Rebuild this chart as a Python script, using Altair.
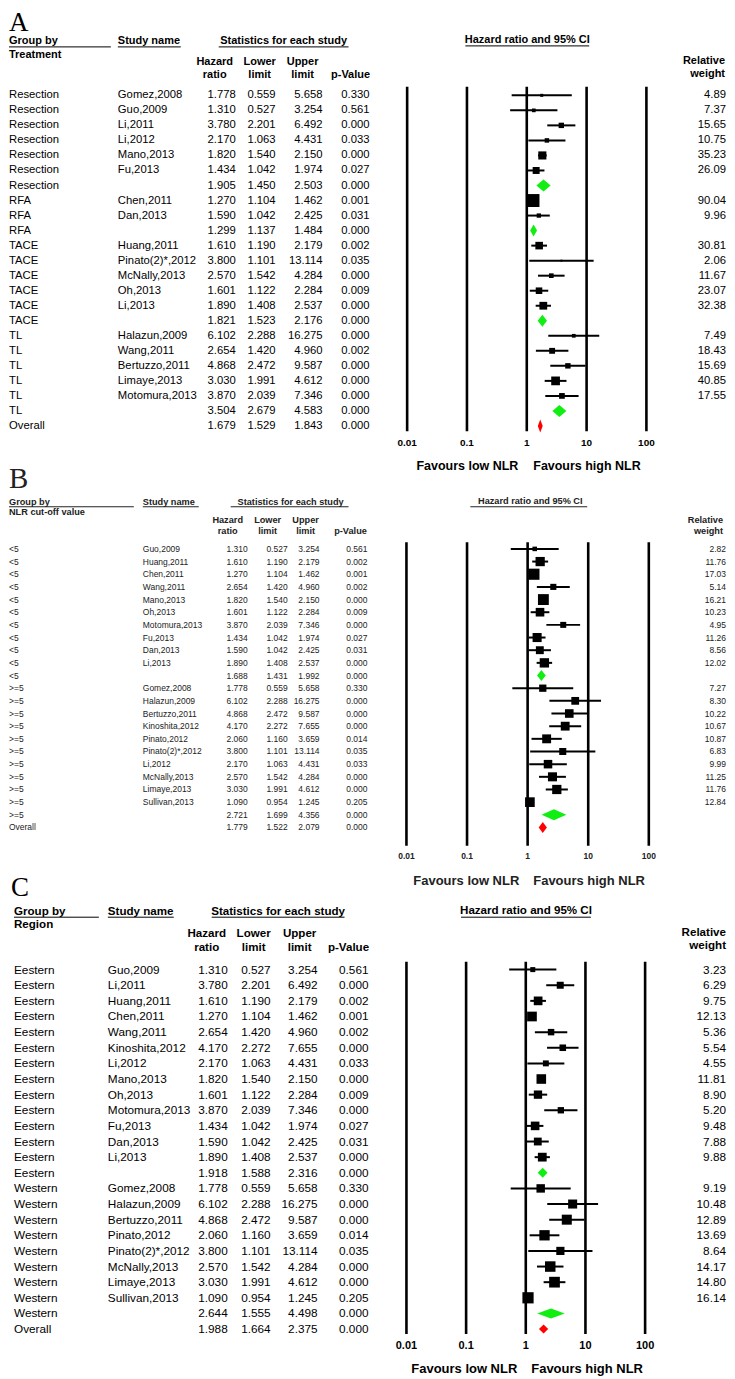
import altair as alt
import pandas as pd

FONT = "Liberation Sans"
SERIF = "Liberation Serif"
GREEN = "#11ee11"
RED = "#ff0000"

TICKS = [0.01, 0.1, 1, 10, 100]
TICK_LABELS = ["0.01", "0.1", "1", "10", "100"]

# ---------------- Panel A : by treatment ----------------
A_groups = ["Resection"] * 7 + ["RFA"] * 3 + ["TACE"] * 6 + ["TL"] * 6 + ["Overall"]
A_studies = ["Gomez,2008", "Guo,2009", "Li,2011", "Li,2012", "Mano,2013", "Fu,2013", "",
             "Chen,2011", "Dan,2013", "",
             "Huang,2011", "Pinato(2)*,2012", "McNally,2013", "Oh,2013", "Li,2013", "",
             "Halazun,2009", "Wang,2011", "Bertuzzo,2011", "Limaye,2013", "Motomura,2013", "",
             ""]
A_hr = [1.778, 1.310, 3.780, 2.170, 1.820, 1.434, 1.905,
        1.270, 1.590, 1.299,
        1.610, 3.800, 2.570, 1.601, 1.890, 1.821,
        6.102, 2.654, 4.868, 3.030, 3.870, 3.504,
        1.679]
A_lo = [0.559, 0.527, 2.201, 1.063, 1.540, 1.042, 1.450,
        1.104, 1.042, 1.137,
        1.190, 1.101, 1.542, 1.122, 1.408, 1.523,
        2.288, 1.420, 2.472, 1.991, 2.039, 2.679,
        1.529]
A_up = [5.658, 3.254, 6.492, 4.431, 2.150, 1.974, 2.503,
        1.462, 2.425, 1.484,
        2.179, 13.114, 4.284, 2.284, 2.537, 2.176,
        16.275, 4.960, 9.587, 4.612, 7.346, 4.583,
        1.843]
A_p = [0.330, 0.561, 0.000, 0.033, 0.000, 0.027, 0.000,
       0.001, 0.031, 0.000,
       0.002, 0.035, 0.000, 0.009, 0.000, 0.000,
       0.000, 0.002, 0.000, 0.000, 0.000, 0.000,
       0.000]
A_w = [4.89, 7.37, 15.65, 10.75, 35.23, 26.09, None,
       90.04, 9.96, None,
       30.81, 2.06, 11.67, 23.07, 32.38, None,
       7.49, 18.43, 15.69, 40.85, 17.55, None,
       None]

# ---------------- Panel B : by NLR cut-off ----------------
B_groups = ["<5"] * 11 + [">=5"] * 11 + ["Overall"]
B_studies = ["Guo,2009", "Huang,2011", "Chen,2011", "Wang,2011", "Mano,2013", "Oh,2013",
             "Motomura,2013", "Fu,2013", "Dan,2013", "Li,2013", "",
             "Gomez,2008", "Halazun,2009", "Bertuzzo,2011", "Kinoshita,2012", "Pinato,2012",
             "Pinato(2)*,2012", "Li,2012", "McNally,2013", "Limaye,2013", "Sullivan,2013", "",
             ""]
B_hr = [1.310, 1.610, 1.270, 2.654, 1.820, 1.601, 3.870, 1.434, 1.590, 1.890, 1.688,
        1.778, 6.102, 4.868, 4.170, 2.060, 3.800, 2.170, 2.570, 3.030, 1.090, 2.721,
        1.779]
B_lo = [0.527, 1.190, 1.104, 1.420, 1.540, 1.122, 2.039, 1.042, 1.042, 1.408, 1.431,
        0.559, 2.288, 2.472, 2.272, 1.160, 1.101, 1.063, 1.542, 1.991, 0.954, 1.699,
        1.522]
B_up = [3.254, 2.179, 1.462, 4.960, 2.150, 2.284, 7.346, 1.974, 2.425, 2.537, 1.992,
        5.658, 16.275, 9.587, 7.655, 3.659, 13.114, 4.431, 4.284, 4.612, 1.245, 4.356,
        2.079]
B_p = [0.561, 0.002, 0.001, 0.002, 0.000, 0.009, 0.000, 0.027, 0.031, 0.000, 0.000,
       0.330, 0.000, 0.000, 0.000, 0.014, 0.035, 0.033, 0.000, 0.000, 0.205, 0.000,
       0.000]
B_w = [2.82, 11.76, 17.03, 5.14, 16.21, 10.23, 4.95, 11.26, 8.56, 12.02, None,
       7.27, 8.30, 10.22, 10.67, 10.87, 6.83, 9.99, 11.25, 11.76, 12.84, None,
       None]

# ---------------- Panel C : by region ----------------
C_groups = ["Eestern"] * 14 + ["Western"] * 9 + ["Overall"]
C_studies = ["Guo,2009", "Li,2011", "Huang,2011", "Chen,2011", "Wang,2011", "Kinoshita,2012",
             "Li,2012", "Mano,2013", "Oh,2013", "Motomura,2013", "Fu,2013", "Dan,2013",
             "Li,2013", "",
             "Gomez,2008", "Halazun,2009", "Bertuzzo,2011", "Pinato,2012", "Pinato(2)*,2012",
             "McNally,2013", "Limaye,2013", "Sullivan,2013", "",
             ""]
C_hr = [1.310, 3.780, 1.610, 1.270, 2.654, 4.170, 2.170, 1.820, 1.601, 3.870, 1.434, 1.590,
        1.890, 1.918,
        1.778, 6.102, 4.868, 2.060, 3.800, 2.570, 3.030, 1.090, 2.644,
        1.988]
C_lo = [0.527, 2.201, 1.190, 1.104, 1.420, 2.272, 1.063, 1.540, 1.122, 2.039, 1.042, 1.042,
        1.408, 1.588,
        0.559, 2.288, 2.472, 1.160, 1.101, 1.542, 1.991, 0.954, 1.555,
        1.664]
C_up = [3.254, 6.492, 2.179, 1.462, 4.960, 7.655, 4.431, 2.150, 2.284, 7.346, 1.974, 2.425,
        2.537, 2.316,
        5.658, 16.275, 9.587, 3.659, 13.114, 4.284, 4.612, 1.245, 4.498,
        2.375]
C_p = [0.561, 0.000, 0.002, 0.001, 0.002, 0.000, 0.033, 0.000, 0.009, 0.000, 0.027, 0.031,
       0.000, 0.000,
       0.330, 0.000, 0.000, 0.014, 0.035, 0.000, 0.000, 0.205, 0.000,
       0.000]
C_w = [3.23, 6.29, 9.75, 12.13, 5.36, 5.54, 4.55, 11.81, 8.90, 5.20, 9.48, 7.88, 9.88, None,
       9.19, 10.48, 12.89, 13.69, 8.64, 14.17, 14.80, 16.14, None,
       None]

# ---------------- layout (positions / sizes / styles) ----------------
LA = dict(width=719, height=457, letter="A", letter_x=0, letter_y=19, letter_fs=27,
          fs=11.3, hfs=11, color="black", group_title="Treatment",
          gb=(0, 29.5), ul_y=35, gb_ul=(0, 102), sub_y=43,
          sn_x=109, sn_ul=(109, 172), st=(275, 29.5), st_ul=(210, 340),
          h1=50, h2=63, hx=(206, 251, 294, 342),
          ci=(519, 28), ci_ul=(457, 581, 34), rw=(717, 49, 62),
          cols=(0, 109, 227, 267, 314, 361, 718),
          row0=83.5, dy=15.05, x001=398.7, x100=638.3, vtop=75, vbot=420,
          tick_y=432, tick_fs=10, fav_y=455, fav_fs=12.5, fav_lo=510, fav_hi=525,
          sq=1.87, hg=0.40, hrd=0.43)
LB = dict(width=719, height=405, letter="B", letter_x=0, letter_y=20, letter_fs=29,
          fs=8.5, hfs=9.2, color="#222222", group_title="NLR cut-off value",
          gb=(0, 34), ul_y=38.5, gb_ul=(0, 125), sub_y=44,
          sn_x=134, sn_ul=(134, 190), st=(282, 34), st_ul=(222, 340),
          h1=52, h2=63, hx=(219, 259, 297, 342),
          ci=(522, 33), ci_ul=(462, 579, 38.5), rw=(715, 52, 63),
          cols=(0, 134, 239, 279, 311, 359, 718),
          row0=80.7, dy=12.68, x001=398, x100=640.7, vtop=74, vbot=378,
          tick_y=388, tick_fs=8.5, fav_y=413, fav_fs=13, fav_lo=511, fav_hi=525,
          sq=7.3, hg=0.43, hrd=0.43)
LC = dict(width=719, height=501, letter="C", letter_x=2, letter_y=23, letter_fs=27,
          fs=11.8, hfs=11.6, color="black", group_title="Region",
          gb=(5, 39), ul_y=44.5, gb_ul=(5, 90), sub_y=52.5,
          sn_x=99, sn_ul=(99, 165), st=(269.5, 39), st_ul=(203, 336),
          h1=61, h2=75, hx=(198, 245, 291, 340),
          ci=(517.7, 38), ci_ul=(452.7, 582.7, 44.5), rw=(718, 60, 73),
          cols=(5, 99, 219, 262, 309, 360, 718),
          row0=97, dy=15.65, x001=398, x100=637, vtop=89, vbot=462,
          tick_y=474, tick_fs=11, fav_y=497, fav_fs=13, fav_lo=509, fav_hi=523,
          sq=7.8, hg=0.32, hrd=0.29)


def label(text, x, y, L, size=None, bold=True, align="left", font=FONT, baseline="middle"):
    d = pd.DataFrame({"t": [text]})
    return alt.Chart(d).mark_text(
        align=align, baseline=baseline, font=font, fontSize=size or L["hfs"],
        fontWeight="bold" if bold else "normal", color=L["color"]
    ).encode(x=alt.value(x), y=alt.value(y), text="t:N")


def hline(x1, x2, y, L):
    d = pd.DataFrame({"t": [0]})
    return alt.Chart(d).mark_rule(color=L["color"], strokeWidth=1).encode(
        x=alt.value(x1), x2=alt.value(x2), y=alt.value(y))


def panel(groups, studies, hr, lo, up, p, w, L):
    n = len(groups)
    df = pd.DataFrame(dict(idx=list(range(n)), grp=groups, study=studies, hr=hr, lo=lo,
                           up=up, p=p, w=w))
    df["kind"] = ["overall" if g == "Overall" else ("study" if s else "sub")
                  for g, s in zip(groups, studies)]
    yscale = alt.Scale(domain=[0, n - 1], range=[L["row0"], L["row0"] + (n - 1) * L["dy"]],
                       nice=False, zero=False)
    xscale = alt.Scale(type="log", domain=[0.01, 100], range=[L["x001"], L["x100"]], nice=False)
    Y = alt.Y("idx:Q", scale=yscale, axis=None)
    base = alt.Chart(df)
    studies_only = base.transform_filter(alt.datum.kind == "study")
    tc = dict(font=FONT, fontSize=L["fs"], color=L["color"], baseline="middle")
    c = L["cols"]

    layers = []
    # reference vertical lines
    tdf = pd.DataFrame({"t": TICKS, "lab": TICK_LABELS})
    layers.append(alt.Chart(tdf).mark_rule(color="black", strokeWidth=2.6).encode(
        x=alt.X("t:Q", scale=xscale, axis=None), y=alt.value(L["vtop"]), y2=alt.value(L["vbot"])))
    layers.append(alt.Chart(tdf).mark_text(font=FONT, fontSize=L["tick_fs"], fontWeight="bold",
                                           color=L["color"], baseline="middle").encode(
        x=alt.X("t:Q", scale=xscale, axis=None), y=alt.value(L["tick_y"]), text="lab:N"))
    # confidence intervals
    layers.append(studies_only.mark_rule(color="black", strokeWidth=2).encode(
        x=alt.X("lo:Q", scale=xscale, axis=None), x2="up:Q", y=Y))
    # squares
    layers.append(studies_only.mark_square(filled=True, color="black", opacity=1, strokeWidth=0).encode(
        x=alt.X("hr:Q", scale=xscale, axis=None), y=Y,
        size=alt.Size("w:Q", scale=alt.Scale(domain=[0, 100], range=[0, L["sq"] * 100]), legend=None)))
    # diamonds (summary estimates): one filled area per summary row
    drows = []
    for r in df.itertuples():
        if r.kind == "study":
            continue
        h = L["hg"] if r.kind == "sub" else L["hrd"]
        drows += [dict(key=r.idx, kind=r.kind, xv=r.lo, ya=r.idx, yb=r.idx),
                  dict(key=r.idx, kind=r.kind, xv=r.hr, ya=r.idx - h, yb=r.idx + h),
                  dict(key=r.idx, kind=r.kind, xv=r.up, ya=r.idx, yb=r.idx)]
    ddf = pd.DataFrame(drows)
    for kind, colr in (("sub", GREEN), ("overall", RED)):
        sub = ddf[ddf["kind"] == kind]
        for key in sorted(sub["key"].unique()):
            one = sub[sub["key"] == key].reset_index(drop=True)
            layers.append(alt.Chart(one).mark_area(opacity=1, color=colr, orient="vertical",
                                                   interpolate="linear").encode(
                x=alt.X("xv:Q", scale=xscale, axis=None),
                y=alt.Y("ya:Q", scale=yscale, axis=None, stack=None), y2="yb:Q"))
    # text columns
    layers.append(base.mark_text(align="left", **tc).encode(x=alt.value(c[0]), y=Y, text="grp:N"))
    layers.append(base.mark_text(align="left", **tc).encode(x=alt.value(c[1]), y=Y, text="study:N"))
    layers.append(base.mark_text(align="right", **tc).encode(
        x=alt.value(c[2]), y=Y, text=alt.Text("hr:Q", format=".3f")))
    layers.append(base.mark_text(align="right", **tc).encode(
        x=alt.value(c[3]), y=Y, text=alt.Text("lo:Q", format=".3f")))
    layers.append(base.mark_text(align="right", **tc).encode(
        x=alt.value(c[4]), y=Y, text=alt.Text("up:Q", format=".3f")))
    layers.append(base.mark_text(align="right", **tc).encode(
        x=alt.value(c[5]), y=Y, text=alt.Text("p:Q", format=".3f")))
    layers.append(studies_only.mark_text(align="right", **tc).encode(
        x=alt.value(c[6]), y=Y, text=alt.Text("w:Q", format=".2f")))

    # headers
    layers.append(label(L["letter"], L["letter_x"], L["letter_y"], L, size=L["letter_fs"],
                        bold=False, font=SERIF, baseline="alphabetic"))
    layers.append(label("Group by", L["gb"][0], L["gb"][1], L))
    layers.append(hline(L["gb_ul"][0], L["gb_ul"][1], L["ul_y"], L))
    layers.append(label(L["group_title"], L["gb"][0], L["sub_y"], L))
    layers.append(label("Study name", L["sn_x"], L["gb"][1], L))
    layers.append(hline(L["sn_ul"][0], L["sn_ul"][1], L["ul_y"], L))
    layers.append(label("Statistics for each study", L["st"][0], L["st"][1], L, align="center"))
    layers.append(hline(L["st_ul"][0], L["st_ul"][1], L["ul_y"], L))
    hx = L["hx"]
    layers.append(label("Hazard", hx[0], L["h1"], L, align="center"))
    layers.append(label("ratio", hx[0], L["h2"], L, align="center"))
    layers.append(label("Lower", hx[1], L["h1"], L, align="center"))
    layers.append(label("limit", hx[1], L["h2"], L, align="center"))
    layers.append(label("Upper", hx[2], L["h1"], L, align="center"))
    layers.append(label("limit", hx[2], L["h2"], L, align="center"))
    layers.append(label("p-Value", hx[3], L["h2"], L, align="center"))
    layers.append(label("Hazard ratio and 95% CI", L["ci"][0], L["ci"][1], L, align="center"))
    layers.append(hline(L["ci_ul"][0], L["ci_ul"][1], L["ci_ul"][2], L))
    layers.append(label("Relative", L["rw"][0], L["rw"][1], L, align="right"))
    layers.append(label("weight", L["rw"][0], L["rw"][2], L, align="right"))
    layers.append(label("Favours low NLR", L["fav_lo"], L["fav_y"], L, size=L["fav_fs"], align="right"))
    layers.append(label("Favours high NLR", L["fav_hi"], L["fav_y"], L, size=L["fav_fs"], align="left"))

    return alt.layer(*layers).properties(width=L["width"], height=L["height"])


pA = panel(A_groups, A_studies, A_hr, A_lo, A_up, A_p, A_w, LA)
pB = panel(B_groups, B_studies, B_hr, B_lo, B_up, B_p, B_w, LB)
pC = panel(C_groups, C_studies, C_hr, C_lo, C_up, C_p, C_w, LC)

chart = alt.vconcat(pA, pB, pC, spacing=0, bounds="flush").properties(
    padding=0, background="white"
).configure_view(stroke=None).resolve_scale(x="independent", y="independent",
                                             size="independent")

chart.save("out.html", embed_options={"renderer": "svg", "actions": False})
